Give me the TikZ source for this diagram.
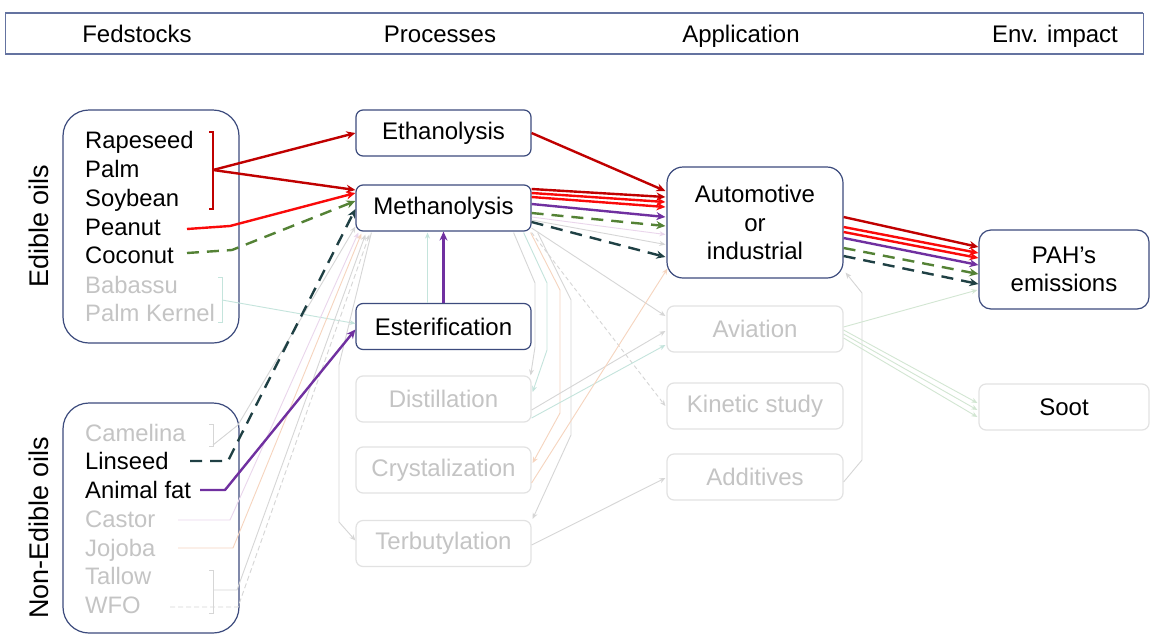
\documentclass[tikz,border=0pt]{standalone}
\usepackage{fontspec}
\setmainfont{Liberation Sans}
\usetikzlibrary{arrows.meta,calc}

\definecolor{boxblue}{RGB}{60,75,125}
\definecolor{headblue}{RGB}{100,115,160}
\definecolor{dred}{RGB}{192,0,0}
\definecolor{bred}{RGB}{250,10,10}
\definecolor{olive}{RGB}{84,130,53}
\definecolor{slate}{RGB}{31,64,68}
\definecolor{purp}{RGB}{112,48,160}
\definecolor{ftext}{RGB}{196,196,196}
\definecolor{fborder}{RGB}{226,226,226}
\definecolor{fgray}{RGB}{214,214,214}
\definecolor{fteal}{RGB}{196,228,220}
\definecolor{forange}{RGB}{246,212,190}
\definecolor{fpink}{RGB}{234,214,236}
\definecolor{fgreen}{RGB}{210,230,210}

\begin{document}
\begin{tikzpicture}[x=1pt,y=-1pt,
  box/.style={draw=boxblue, line width=1.2pt, rounded corners=7pt,
    minimum width=175pt, minimum height=46pt, inner sep=0pt, align=center,
    font=\fontsize{24}{28.5}\selectfont},
  dimbox/.style={box, draw=fborder, text=ftext},
  group/.style={draw=boxblue, line width=1.2pt, rounded corners=26pt},
  item/.style={anchor=base west, inner sep=0pt, font=\fontsize{23.8}{28}\selectfont},
  dimitem/.style={item, text=ftext},
  head/.style={anchor=base, inner sep=0pt, font=\fontsize{24}{28}\selectfont},
  side/.style={rotate=90, inner sep=0pt, font=\fontsize{27}{30}\selectfont},
  arr/.style={line width=2.4pt, line join=round, -{Stealth[length=9pt,width=8pt]}},
  dsh/.style={dash pattern=on 12pt off 8pt},
  faint/.style={line width=0.9pt, line join=round, -{Stealth[length=6pt,width=5pt]}},
  brk/.style={line width=1pt}
]
\useasboundingbox (0,0) rectangle (1151,635);
\fill[white] (0,0) rectangle (1151,635);

% column header band
\draw[headblue, line width=1pt] (5,13) rectangle (1143,54);
\draw[headblue, line width=2pt] (5,13) -- (1143,13) (5,54) -- (1143,54);
\node[head] (hfeed) at (137,42) {Fedstocks};
\node[head] (hproc) at (440,42) {Processes};
\node[head] (happ)  at (741,42) {Application};
\node[head] (henv)  at (1055,42) {Env. impact};

% feedstock groups
\draw[group] (63,110) rectangle (239,343);
\draw[group] (63,403) rectangle (239,633);
\node[side] (edl) at (39,226) {Edible oils};
\node[side] (nedl) at (39,528) {Non-Edible oils};

\node[item]    (rape)  at (85,148) {Rapeseed};
\node[item]    (palm)  at (85,177) {Palm};
\node[item]    (soy)   at (85,206) {Soybean};
\node[item]    (pea)   at (85,235) {Peanut};
\node[item]    (coco)  at (85,263) {Coconut};
\node[dimitem] (baba)  at (85,293) {Babassu};
\node[dimitem] (pker)  at (85,321) {Palm Kernel};

\node[dimitem] (came)  at (85,441) {Camelina};
\node[item]    (lins)  at (85,469) {Linseed};
\node[item]    (afat)  at (85,498) {Animal fat};
\node[dimitem] (cast)  at (85,527) {Castor};
\node[dimitem] (jojo)  at (85,556) {Jojoba};
\node[dimitem] (tall)  at (85,584) {Tallow};
\node[dimitem] (wfo)   at (85,613) {WFO};

% processes
\node[box]    (eth)   at (443.5,133)   {Ethanolysis};
\node[box]    (meth)  at (443.5,208)   {Methanolysis};
\node[box]    (est)   at (443.5,326.5) {Esterification};
\node[dimbox] (dist)  at (443.5,399)   {Distillation};
\node[dimbox] (cryst) at (443.5,470)   {Crystalization};
\node[dimbox] (terb)  at (443.5,543.5) {Terbutylation};

% applications
\node[box, minimum width=176pt, minimum height=111pt, rounded corners=16pt]
  (auto) at (755,222.5) {Automotive\\or\\industrial};
\node[dimbox, minimum width=176pt] (avi) at (755,329) {Aviation};
\node[dimbox, minimum width=176pt] (kin) at (755,406) {Kinetic study};
\node[dimbox, minimum width=176pt] (add) at (755,477) {Additives};

% impacts
\node[box, minimum width=170pt, minimum height=79pt, rounded corners=12pt]
  (pah) at (1064,269.5) {PAH’s\\emissions};
\node[dimbox, minimum width=170pt, text=black] (soot) at (1064,407) {Soot};

% free ends beside the feedstock names
\coordinate (brA) at (213,170);
\coordinate (peaout) at (187,229);
\coordinate (cocout) at (187,253);
\coordinate (babout) at (222,300);
\coordinate (camout) at (213,445);
\coordinate (linout) at (190,461);
\coordinate (fatout) at (200,490);
\coordinate (casout) at (178,520);
\coordinate (jojout) at (178,548);
\coordinate (talout) at (213,590);
\coordinate (wfoout) at (170,607);

% ---- faded flows (behind) ----
\draw[fteal, brk] (218,277) -- (222,277) -- (222,322) -- (218,322);
\draw[fteal, faint] (babout) -- ($(est.west)+(0,-3)$);
\draw[fgray, brk] (209,424) -- (213,424) -- (213,446) -- (209,446);
\draw[fgray, faint] (camout) -- (238,425) -- ($(meth.south west)+(0,-5)$);
\draw[fpink, faint] (casout) -- (230,520) -- ($(meth.south west)+(3,1)$);
\draw[forange, faint] (jojout) -- (233,548) -- ($(meth.south west)+(6,2)$);
\draw[fgray, brk] (209,570) -- (213,570) -- (213,613) -- (209,613);
\draw[fgray, faint] (talout) -- (237,590) -- ($(meth.south west)+(10,3)$);
\draw[fgray, faint, dash pattern=on 5pt off 3pt] (wfoout) -- (238,607) -- ($(meth.south west)+(14,3)$);

\draw[fgray, faint] ($(meth.south west)+(16,1)$) -- (339,365) -- (339,522) -- ($(terb.west)+(0,-3)$);
\draw[fteal, faint] ($(est.north)+(-16,0)$) -- ($(meth.south)+(-16,1)$);

\draw[fgray, faint] ($(meth.south east)+(-18,1)$) -- (535,283) -- (535,347) -- ($(dist.north east)+(-1,0)$);
\draw[fteal, faint] ($(meth.south east)+(-8,1)$) -- (547,283) -- (547,350) -- ($(dist.east)+(1,-7)$);
\draw[forange, faint] ($(meth.south east)+(-1,1)$) -- (560,290) -- (560,413) -- ($(cryst.east)+(1,-7)$);
\draw[fgray, faint] ($(meth.south east)+(6,1)$) -- (571,300) -- (571,435) -- ($(terb.north east)+(1,-1)$);

\draw[fpink, faint] ($(meth.east)+(0,9)$) -- ($(auto.west)+(-1,12)$);
\draw[fgray, faint] ($(meth.east)+(0,12)$) -- ($(auto.west)+(-1,22)$);
\draw[fgray, faint] ($(meth.east)+(0,20)$) -- ($(avi.west)+(-1,-13)$);
\draw[fgray, faint, dash pattern=on 4pt off 3pt] ($(meth.south east)+(0,1)$) -- ($(kin.west)+(-1,0)$);
\draw[fgray, faint] ($(dist.east)+(0,11)$) -- ($(avi.west)+(-1,2)$);
\draw[fteal, faint] ($(dist.east)+(0,19)$) -- ($(avi.west)+(-1,16)$);
\draw[forange, faint] ($(cryst.east)+(0,13)$) -- ($(auto.south west)+(1,-10)$);
\draw[fgray, faint] ($(terb.east)+(0,1.5)$) -- ($(add.west)+(-1,1)$);
\draw[fgray, faint] ($(add.east)+(0,5)$) -- (862,460) -- (862,293) -- ($(auto.south east)+(2,-6)$);

\draw[fgreen, faint] ($(avi.east)+(0,-2)$) -- ($(pah.west)+(-1,20.5)$);
\draw[fgreen, faint] ($(avi.east)+(0,1)$) -- ($(soot.west)+(-1,-4)$);
\draw[fgreen, faint] ($(avi.east)+(0,5)$) -- ($(soot.west)+(-1,3)$);
\draw[fgreen, faint] ($(avi.east)+(0,9)$) -- ($(soot.west)+(-1,10)$);

% ---- highlighted flows ----
% Rapeseed, Palm, Soybean
\draw[dred, line width=2.4pt] (209,132) -- (213,132) -- (213,209) -- (209,209);
\draw[dred, arr] (brA) -- (eth.west);
\draw[dred, arr] (brA) -- ($(meth.west)+(0,-18)$);
% Peanut and Coconut
\draw[bred, arr] (peaout) -- (230,226) -- ($(meth.west)+(0,-15)$);
\draw[olive, arr, dsh] (cocout) -- (232,250) -- ($(meth.west)+(0,-7)$);
% Linseed and animal fat
\draw[slate, arr, dsh] (linout) -- (228,461) -- (240,437) -- ($(meth.west)+(0,1)$);
\draw[purp, arr] (fatout) -- (225,490) -- ($(est.west)+(0,3)$);
\draw[purp, arr] (est.north) -- (meth.south);

% to automotive use
\draw[dred, arr] (eth.east) -- ($(auto.west)+(-1,-31.5)$);
\draw[dred, arr] ($(meth.east)+(0,-19)$) -- ($(auto.west)+(-1,-25.5)$);
\draw[bred, arr] ($(meth.east)+(0,-15)$) -- ($(auto.west)+(-1,-20.5)$);
\draw[bred, arr] ($(meth.east)+(0,-11)$) -- ($(auto.west)+(-1,-15.5)$);
\draw[purp, arr] ($(meth.east)+(0,-4)$) -- ($(auto.west)+(-1,-5.5)$);
\draw[olive, arr, dsh] ($(meth.east)+(0,5)$) -- ($(auto.west)+(-1,3.5)$);
\draw[slate, arr, dsh] ($(meth.east)+(0,14)$) -- ($(auto.west)+(-1,34.5)$);

% to PAH emissions
\draw[dred, arr] ($(auto.east)+(0,-5.5)$) -- ($(pah.west)+(0,-22.5)$);
\draw[bred, arr] ($(auto.east)+(0,4.5)$) -- ($(pah.west)+(0,-16.5)$);
\draw[bred, arr] ($(auto.east)+(0,9.5)$) -- ($(pah.west)+(0,-11.5)$);
\draw[purp, arr] ($(auto.east)+(0,15.5)$) -- ($(pah.west)+(0,-4.5)$);
\draw[olive, arr, dsh] ($(auto.east)+(0,25.5)$) -- ($(pah.west)+(0,4.5)$);
\draw[slate, arr, dsh] ($(auto.east)+(0,33.5)$) -- ($(pah.west)+(0,14.5)$);
\end{tikzpicture}
\end{document}
